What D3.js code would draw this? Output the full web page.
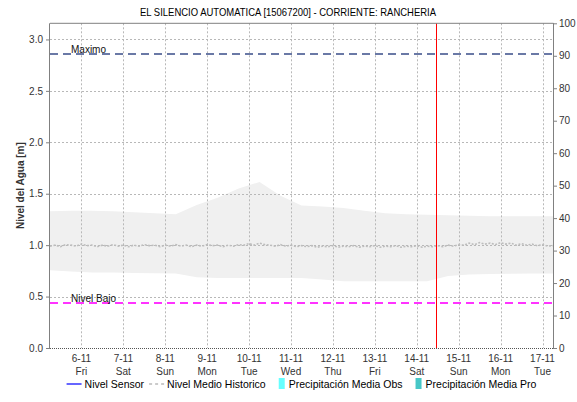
<!DOCTYPE html>
<html><head><meta charset="utf-8">
<script src="https://cdn.jsdelivr.net/npm/d3@7"></script>
<style>body{margin:0;background:#fff}svg{display:block}text{font-family:"Liberation Sans",Arial,sans-serif}</style>
</head><body><svg id="c" width="577" height="402"></svg>
<script>
const title = "EL SILENCIO AUTOMATICA [15067200] - CORRIENTE: RANCHERIA";
const yLabel = "Nivel del Agua [m]";
const leftTicks = [0, 0.5, 1.0, 1.5, 2.0, 2.5, 3.0];
const rightTicks = [0, 10, 20, 30, 40, 50, 60, 70, 80, 90, 100];
const tickDays = ["2020-11-06T12:00","2020-11-07T12:00","2020-11-08T12:00","2020-11-09T12:00","2020-11-10T12:00","2020-11-11T12:00","2020-11-12T12:00","2020-11-13T12:00","2020-11-14T12:00","2020-11-15T12:00","2020-11-16T12:00","2020-11-17T12:00"];
const tickLabels1 = ["6-11","7-11","8-11","9-11","10-11","11-11","12-11","13-11","14-11","15-11","16-11","17-11"];
const tickLabels2 = ["Fri","Sat","Sun","Mon","Tue","Wed","Thu","Fri","Sat","Sun","Mon","Tue"];
const xStart = "2020-11-05T18:00", xEnd = "2020-11-17T18:00";
const nowTime = "2020-11-14T23:00";
const maximo = 2.855, nivelBajo = 0.44;
// historic band, every 12h from xStart
const bandUpper = [1.33,1.335,1.335,1.33,1.32,1.31,1.30,1.39,1.46,1.55,1.615,1.48,1.385,1.375,1.36,1.335,1.31,1.30,1.295,1.29,1.285,1.28,1.28,1.28,1.28];
const bandLower = [0.757,0.745,0.735,0.733,0.73,0.728,0.724,0.688,0.68,0.68,0.68,0.68,0.68,0.665,0.65,0.65,0.65,0.65,0.65,0.70,0.715,0.72,0.722,0.724,0.725];
// historic mean, every 3h from xStart
const histMean = [0.99,1.0,0.985,1.005,1.0,0.99,1.01,0.995,1.0,0.985,1.0,0.99,1.005,0.99,1.0,0.985,1.0,0.99,1.005,0.995,1.0,0.985,1.0,0.99,
 1.005,0.99,1.0,0.985,1.0,0.99,1.005,0.995,1.0,0.985,1.0,0.99,1.005,1.0,1.015,1.0,1.02,1.005,1.0,0.99,1.005,0.99,1.0,0.985,
 0.995,0.985,0.995,0.98,0.99,0.985,0.995,0.98,0.99,0.985,0.995,0.98,0.99,0.985,0.995,0.98,0.99,0.985,0.995,0.98,0.99,0.985,0.995,0.98,
 0.99,0.985,0.995,0.985,1.0,0.99,1.005,1.0,1.02,1.005,1.025,1.01,1.02,1.005,1.025,1.01,1.02,1.0,1.015,1.0,1.01,0.995,1.005,0.99,0.995];
const legendItems = [
 {name:"Nivel Sensor", type:"line", color:"#0000ff"},
 {name:"Nivel Medio Historico", type:"dash", color:"#bbbbbb"},
 {name:"Precipitación Media Obs", type:"box", color:"#66ffff"},
 {name:"Precipitación Media Pro", type:"box", color:"#47c7c7"}
];

const svg = d3.select("#c");
const M = {l:50, r:553, t:23.3, b:348};
const parse = d3.isoParse;
const t0 = parse(xStart);
const x = d3.scaleTime().domain([t0, parse(xEnd)]).range([M.l, M.r]);
const y = d3.scaleLinear().domain([0, 3.157]).range([M.b, M.t]);
const y2 = d3.scaleLinear().domain([0, 100]).range([M.b, M.t]);
const H = 3600*1000;
const px = v => Math.round(v) + 0.5;

// band
const bandData = bandUpper.map((u,i)=>({t:new Date(+t0 + i*12*H), u, l:bandLower[i]}));
svg.append("path").datum(bandData)
 .attr("d", d3.area().x(d=>x(d.t)).y0(d=>y(d.l)).y1(d=>y(d.u)))
 .attr("fill","#f0f0f0");

// grid
svg.append("g").selectAll("line").data(tickDays).join("line")
 .attr("x1",d=>px(x(parse(d)))).attr("x2",d=>px(x(parse(d)))).attr("y1",M.t).attr("y2",M.b)
 .attr("stroke","#b8b8b8").attr("stroke-width",1).attr("stroke-dasharray","2,2");
svg.append("g").selectAll("line").data(leftTicks.filter(v=>v>0)).join("line")
 .attr("x1",M.l).attr("x2",M.r).attr("y1",d=>px(y(d))).attr("y2",d=>px(y(d)))
 .attr("stroke","#b8b8b8").attr("stroke-width",1).attr("stroke-dasharray","2,2");

// hist mean
const meanData = histMean.map((v,i)=>({t:new Date(+t0 + i*3*H), v}));
svg.append("path").datum(meanData)
 .attr("d", d3.line().x(d=>x(d.t)).y(d=>y(d.v)))
 .attr("fill","none").attr("stroke","#bdbdbd").attr("stroke-width",1.6).attr("stroke-dasharray","2,1.5");

// threshold lines
svg.append("line").attr("x1",M.l).attr("x2",M.r).attr("y1",Math.round(y(maximo))).attr("y2",Math.round(y(maximo)))
 .attr("stroke","#6a79a6").attr("stroke-width",2).attr("stroke-dasharray","8,5");
svg.append("line").attr("x1",M.l).attr("x2",M.r).attr("y1",Math.round(y(nivelBajo))).attr("y2",Math.round(y(nivelBajo)))
 .attr("stroke","#ff33ff").attr("stroke-width",2).attr("stroke-dasharray","8,5");
svg.append("text").attr("x",71).attr("y",Math.round(y(maximo))-1).attr("font-size",10).attr("fill","#111").text("Maximo");
svg.append("text").attr("x",71).attr("y",Math.round(y(nivelBajo))-1).attr("font-size",10).attr("fill","#111").text("Nivel Bajo");

// now line
svg.append("line").attr("x1",px(x(parse(nowTime)))).attr("x2",px(x(parse(nowTime)))).attr("y1",M.t).attr("y2",M.b)
 .attr("stroke","#ff0000").attr("stroke-width",1);

// axes
const axL = svg.append("g").attr("transform",`translate(${M.l},0)`)
 .call(d3.axisLeft(y).tickValues(leftTicks).tickFormat(d3.format(".1f")).tickSize(4).tickPadding(3));
const axR = svg.append("g").attr("transform",`translate(${M.r},0)`)
 .call(d3.axisRight(y2).tickValues(rightTicks).tickSize(4).tickPadding(2));
[axL,axR].forEach(a=>{
 a.select(".domain").attr("stroke","#808080");
 a.selectAll(".tick line").attr("stroke","#808080");
 a.selectAll(".tick text").attr("font-size",10).attr("fill","#333").attr("font-family","Liberation Sans, Arial, sans-serif");
});
axL.select(".domain").attr("d",`M-0.5,${M.t}V${M.b}`);
axR.select(".domain").attr("d",`M0.5,${M.t}V${M.b}`);
svg.append("line").attr("x1",M.l).attr("x2",M.r+0.5).attr("y1",M.t).attr("y2",M.t).attr("stroke","#808080");
svg.append("line").attr("x1",M.l).attr("x2",M.r).attr("y1",M.b+0.5).attr("y2",M.b+0.5).attr("stroke","#555").attr("stroke-dasharray","1,1");

const axB = svg.append("g");
axB.selectAll("text.a").data(tickDays).join("text").attr("class","a")
 .attr("x",d=>x(parse(d))).attr("y",362).attr("text-anchor","middle").attr("font-size",10).attr("fill","#333")
 .text((d,i)=>tickLabels1[i]);
axB.selectAll("text.b").data(tickDays).join("text").attr("class","b")
 .attr("x",d=>x(parse(d))).attr("y",375).attr("text-anchor","middle").attr("font-size",10).attr("fill","#333")
 .text((d,i)=>tickLabels2[i]);

// title
svg.append("text").attr("x",288).attr("y",16).attr("text-anchor","middle").attr("font-size",11.5)
 .attr("textLength",296).attr("lengthAdjust","spacingAndGlyphs").attr("fill","#000").text(title);
// y label
svg.append("text").attr("transform",`translate(24,${(M.t+M.b)/2}) rotate(-90)`).attr("text-anchor","middle")
 .attr("font-size",10).attr("font-weight","bold").attr("fill","#333").text(yLabel);

// legend
const lg = svg.append("g").attr("transform","translate(0,388)");
let cx = 0;
const tmp = lg.append("g");
legendItems.forEach(it=>{
 const g = tmp.append("g").attr("transform",`translate(${cx},0)`);
 if(it.type==="line") g.append("line").attr("x1",0).attr("x2",15).attr("y1",-4).attr("y2",-4).attr("stroke",it.color).attr("stroke-width",1.2);
 else if(it.type==="dash") g.append("line").attr("x1",0).attr("x2",15).attr("y1",-4).attr("y2",-4).attr("stroke",it.color).attr("stroke-width",1.5).attr("stroke-dasharray","3,3");
 else g.append("rect").attr("x",8).attr("y",-10).attr("width",6).attr("height",11).attr("fill",it.color);
 const tx = g.append("text").attr("x",18).attr("y",0).attr("font-size",10.5).attr("fill","#000").text(it.name);
 cx += 18 + tx.node().getComputedTextLength() + 5;
});
const totalW = cx - 5;
tmp.attr("transform",`translate(${(M.l+M.r)/2 - totalW/2},0)`);
</script></body></html>
